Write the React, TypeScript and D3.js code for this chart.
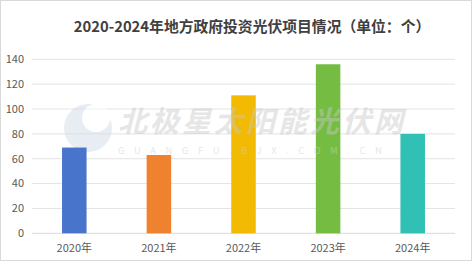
import React from "react";
import * as d3 from "d3";

const categories = ["2020年", "2021年", "2022年", "2023年", "2024年"];
const values = [69, 63, 111, 136, 80];
const colors = ["#4874cb", "#ee822f", "#f2ba02", "#75bd42", "#30c0b4"];
const yTicks = [0, 20, 40, 60, 80, 100, 120, 140];
const title = "2020-2024年地方政府投资光伏项目情况（单位：个）";

export default function App() {
  const W = 472, H = 261;
  const x = d3.scaleBand<string>().domain(categories).range([32, 455]).paddingInner(0.71).paddingOuter(0.355);
  const y = d3.scaleLinear().domain([0, 140]).range([233.3, 59.3]);
  const font = "'Noto Sans CJK SC', 'Noto Sans', sans-serif";
  return (
    <svg width={W} height={H} style={{ position: "absolute", left: 0, top: 0, display: "block" }}>
      <rect x={0.5} y={0.5} width={W - 1} height={H - 1} fill="#fff" stroke="#d9d9d9" />
      <text x={252} y={32} textAnchor="middle" fontFamily={font} fontWeight="bold" fontSize={14.8} fill="#404040">{title}</text>
      {yTicks.map((t) => (
        <g key={t}>
          <line x1={32} x2={455} y1={y(t)} y2={y(t)} stroke={t === 0 ? "#d9d9d9" : "#e3e3e3"} strokeWidth={1} />
          <text x={24} y={y(t)} dy="0.35em" textAnchor="end" fontFamily={font} fontSize={11} fill="#595959">{t}</text>
        </g>
      ))}
      {/* watermark */}
      <g opacity={0.55}>
        <circle cx={88} cy={128} r={24} fill="#d5dfeb" />
        <circle cx={96} cy={118} r={14} fill="#fff" />
      </g>
      {categories.map((c, i) => (
        <rect key={c} x={x(c)} y={y(values[i])} width={x.bandwidth()} height={y(0) - y(values[i])} fill={colors[i]} />
      ))}
      <text x={118} y={132} fontFamily={font} fontWeight="bold" fontStyle="italic" fontSize={29} fill="#c8c8c8" opacity={0.45} letterSpacing={3}>北极星太阳能光伏网</text>
      <text x={118} y={154} fontFamily={font} fontSize={9.5} fill="#d0d0d0" opacity={0.5} letterSpacing={9.5}>GUANGFU.BJX.COM.CN</text>
      {categories.map((c) => (
        <text key={c} x={(x(c) ?? 0) + x.bandwidth() / 2} y={252} textAnchor="middle" fontFamily={font} fontSize={11} fill="#595959">{c}</text>
      ))}
    </svg>
  );
}
